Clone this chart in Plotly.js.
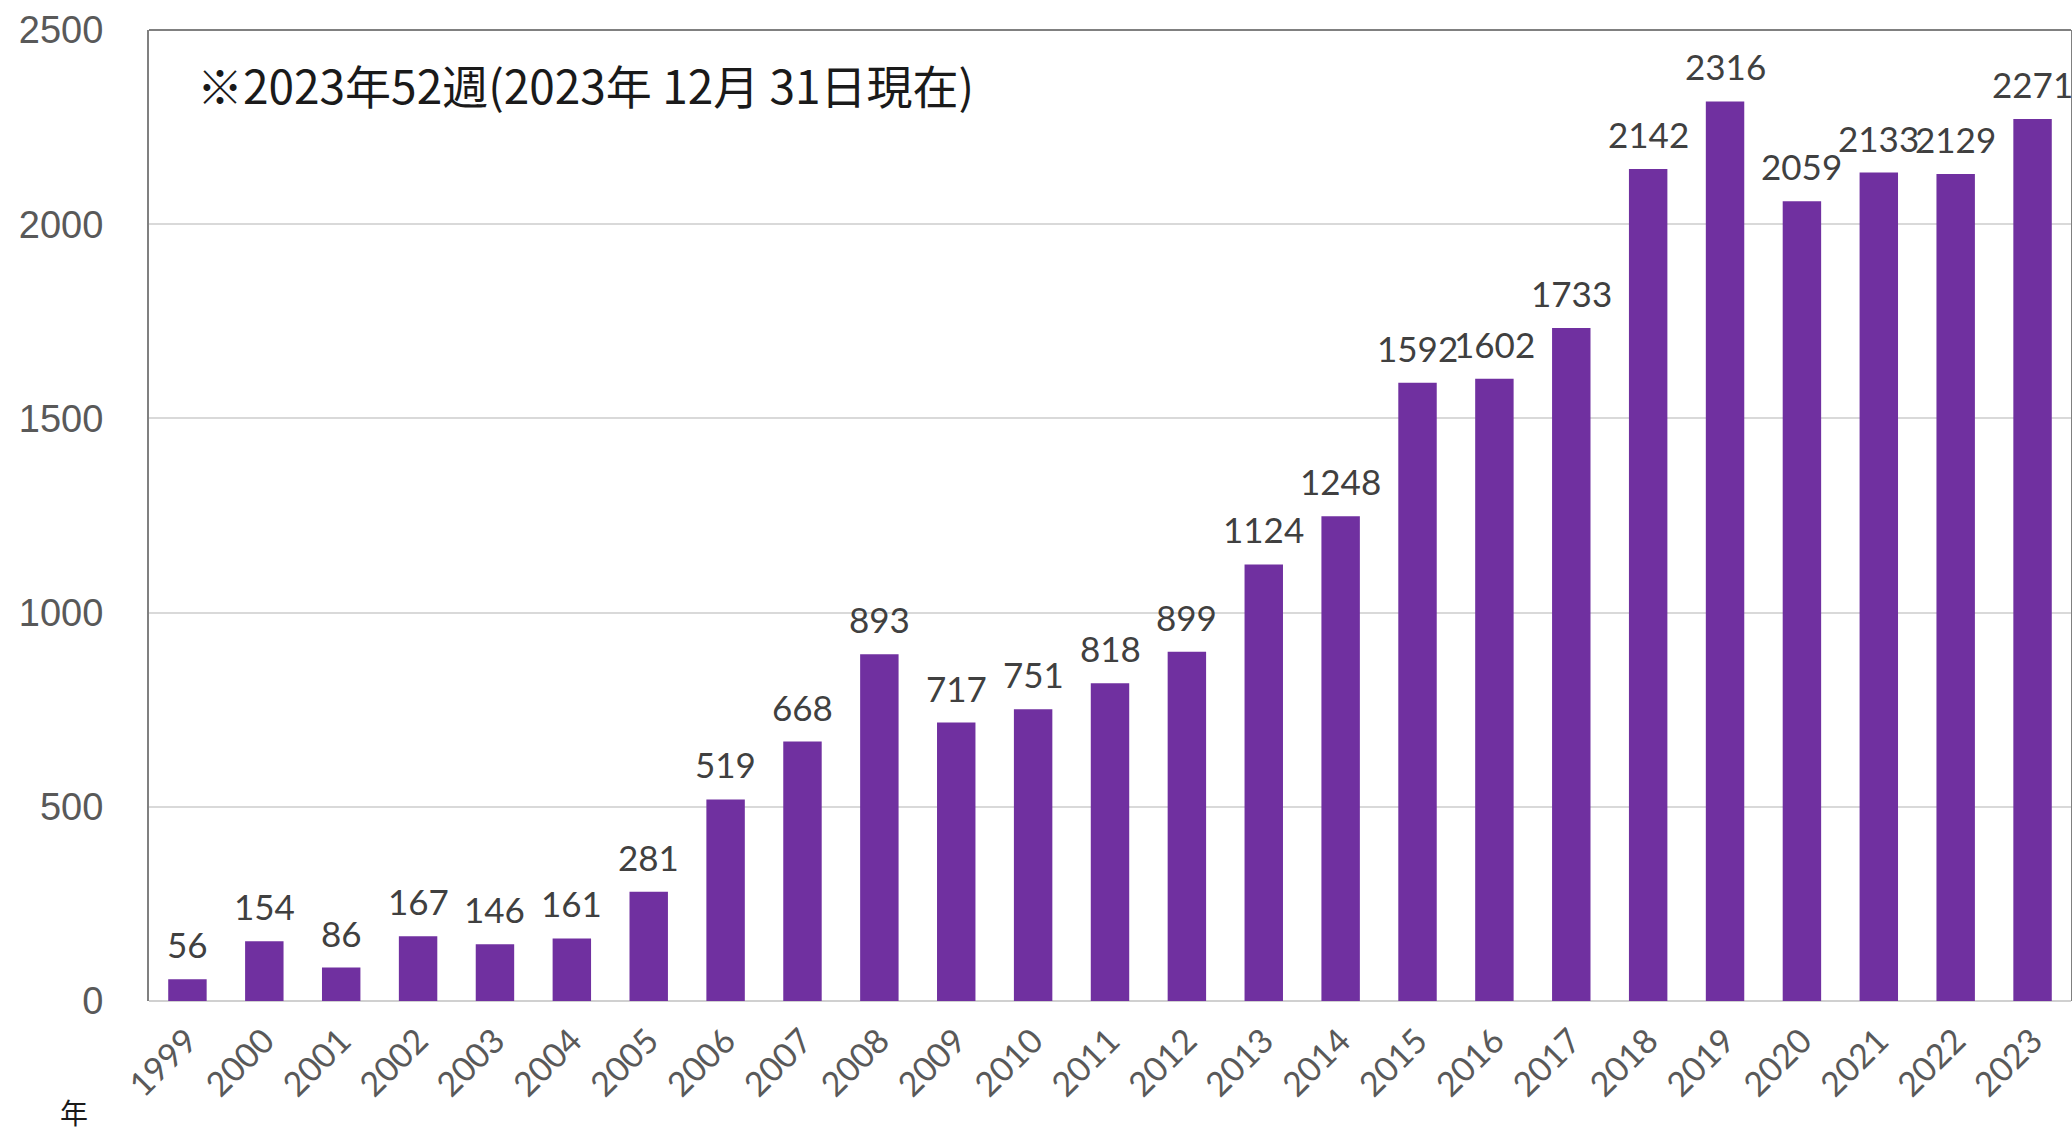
<!DOCTYPE html>
<html>
<head>
<meta charset="utf-8">
<script src="https://cdn.plot.ly/plotly-3.0.1.min.js"></script>
<style>html,body{margin:0;padding:0;background:#fff;}#chart{width:2072px;height:1137px;}</style>
</head>
<body>
<div id="chart"></div>
<script>
const years = ['1999','2000','2001','2002','2003','2004','2005','2006','2007','2008','2009','2010','2011','2012','2013','2014','2015','2016','2017','2018','2019','2020','2021','2022','2023'];
const counts = [56,154,86,167,146,161,281,519,668,893,717,751,818,899,1124,1248,1592,1602,1733,2142,2316,2059,2133,2129,2271];
const yTicks = [0,500,1000,1500,2000,2500];
const noteText = '※2023年52週(2023年 12月 31日現在)';
const xUnitText = '年';

const labelFont = {family: 'Lato, "Open Sans", sans-serif', size: 35, color: '#404040'};

// category index positions of each year on the category axis
const annotations = years.map((y, i) => ({
  x: i, y: counts[i], xref: 'x', yref: 'y',
  text: String(counts[i]), showarrow: false,
  xanchor: 'center', yanchor: 'bottom', yshift: 12,
  font: labelFont
}));
annotations.push({
  xref: 'paper', yref: 'paper', x: 0.024, y: 0.944,
  xanchor: 'left', yanchor: 'middle', showarrow: false,
  text: noteText,
  font: {family: '"Noto Sans CJK JP", sans-serif', size: 46, color: '#1a1a1a'}
});
annotations.push({
  xref: 'paper', yref: 'paper', x: -0.039, y: -0.137,
  xanchor: 'center', yanchor: 'bottom', showarrow: false,
  text: xUnitText,
  font: {family: '"Noto Sans CJK JP", sans-serif', size: 28, color: '#1a1a1a'}
});

const data = [{
  type: 'bar', x: years, y: counts,
  marker: {color: '#7030A0'},
  hoverinfo: 'x+y'
}];

const layout = {
  width: 2072, height: 1137,
  margin: {l: 149, r: 1, t: 30, b: 136},
  paper_bgcolor: '#ffffff', plot_bgcolor: '#ffffff',
  bargap: 0.5,
  showlegend: false,
  xaxis: {
    type: 'category',
    range: [-0.5, years.length - 0.5],
    tickangle: -45,
    tickfont: {family: 'Lato, "Open Sans", sans-serif', size: 34, color: '#595959'},
    showgrid: false, showline: false, zeroline: false,
    ticks: '', ticklabelstandoff: 12
  },
  yaxis: {
    range: [0, 2500],
    tickvals: yTicks,
    ticktext: yTicks.map(String),
    tickfont: {family: '"Liberation Sans", Arial, sans-serif', size: 38, color: '#595959'},
    showgrid: true, gridcolor: '#d9d9d9', gridwidth: 2,
    zeroline: true, zerolinecolor: '#d0d0d0', zerolinewidth: 2,
    showline: true, linecolor: '#808080', linewidth: 2, mirror: true,
    ticks: '', ticklabelstandoff: 36
  },
  shapes: [{
    type: 'line', xref: 'paper', yref: 'paper', x0: 0, x1: 1, y0: 1, y1: 1,
    line: {color: '#808080', width: 2}
  }],
  annotations: annotations
};

Plotly.newPlot('chart', data, layout, {displayModeBar: false, staticPlot: true});
</script>
</body>
</html>
